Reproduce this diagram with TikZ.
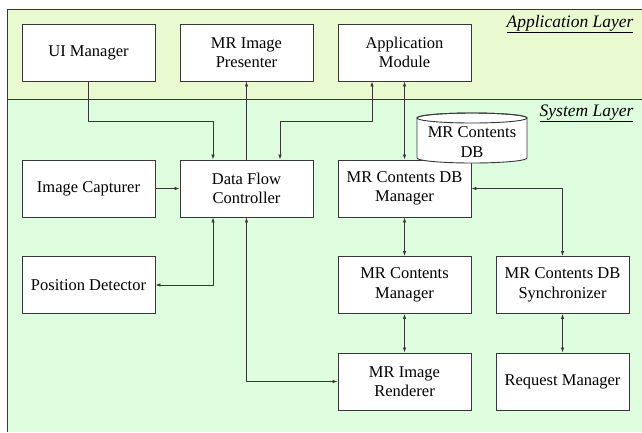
\documentclass[tikz,border=0pt]{standalone}
\usepackage{fontspec}
\setmainfont{Liberation Serif}
\usetikzlibrary{arrows.meta}
\definecolor{applayer}{RGB}{234,250,208}
\definecolor{syslayer}{RGB}{222,252,222}
\definecolor{edge}{RGB}{55,55,55}

\begin{document}
\begin{tikzpicture}
[x=1pt, y=-1pt, >={Latex[length=5pt,width=3.5pt]},
 box/.style={draw=edge, fill=white, line width=0.9pt, minimum width=133pt,
   minimum height=57pt, align=center, font=\fontsize{16.5}{19.5}\selectfont},
 link/.style={draw=edge, line width=0.8pt},
 layer/.style={font=\fontsize{17.5}{20}\selectfont\itshape, anchor=base east}]

\useasboundingbox (0,0) rectangle (642,432);

% the two layers
\fill [applayer] (7,9) rectangle (642,99);
\fill [syslayer] (7,99) rectangle (642,432);
\draw [edge, line width=0.9pt] (7,432)--(7,9)--(642,9);
\draw [edge, line width=0.9pt] (7,99)--(642,99);

\node [layer] (applbl) at (637,27) {\underline{Application Layer}};
\node [layer] (syslbl) at (637,116) {\underline{System Layer}};


\node [box] (ui) at (88.5,52.5) {UI Manager};
\node [box] (pres) at (246.5,52.5) {MR Image\\Presenter};
\node [box] (app) at (404.5,52.5) {Application\\Module};

\node [box] (cap) at (88.5,188.5) {Image Capturer};
\node [box] (dfc) at (246.5,188.5) {Data Flow\\Controller};
\node [box] (dbm) at (404.5,188.5) {MR Contents DB\\Manager};

\node [box] (pos) at (88.5,285) {Position Detector};
\node [box] (cm) at (404.5,285) {MR Contents\\Manager};
\node [box] (sync) at (562.5,285) {MR Contents DB\\Synchronizer};

\node [box] (rend) at (404.5,381.5) {MR Image\\Renderer};
\node [box] (req) at (562.5,381.5) {Request Manager};


% the database
\filldraw [fill=white, draw=edge, line width=0.9pt]
(417,118)--(417,158) arc [start angle=180, end angle=360, x radius=55pt, y radius=5pt]
--(527,118) arc [start angle=0, end angle=180, x radius=55pt, y radius=5pt] -- cycle;
\draw [edge, line width=0.9pt] (472,118) ellipse [x radius=55pt, y radius=5pt];
\node [align=center, font=\fontsize{16.5}{19.5}\selectfont] (db) at (472,142) {MR Contents\\DB};


\draw [link,->] (ui.south) -- ++(0,40) -| ([xshift=-33.5pt]dfc.north);
\draw [link,->] (dfc.north) -- (pres.south);
\draw [link,<->] ([xshift=-32.5pt]app.south) -- ++(0,40) -| ([xshift=33.5pt]dfc.north);
\draw [link,<->] (app.south) -- (dbm.north);

\draw [link,->] (cap) -- (dfc);
\draw [link,<->] ([xshift=-33.5pt]dfc.south) |- (pos.east);
\draw [link,<->] (dfc.south) |- (rend.west);

\draw [link,<->] (dbm.east) -| (sync.north);
\draw [link,<->] (dbm) -- (cm);
\draw [link,<->] (cm) -- (rend);
\draw [link,<->] (sync) -- (req);

\end{tikzpicture}
\end{document}
